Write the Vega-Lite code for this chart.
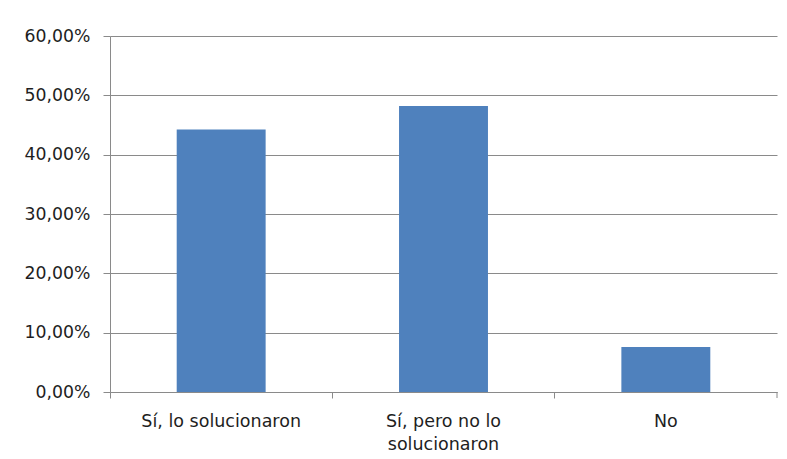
{
  "$schema": "https://vega.github.io/schema/vega-lite/v6.json",
  "width": 667,
  "height": 356,
  "autosize": "none",
  "padding": {"left": 110, "top": 36, "right": 10, "bottom": 67},
  "background": "#ffffff",
  "data": {
    "values": [
      {"respuesta": "Sí, lo solucionaron", "porcentaje": 0.4423},
      {"respuesta": "Sí, pero no lo solucionaron", "porcentaje": 0.4819},
      {"respuesta": "No", "porcentaje": 0.0758}
    ]
  },
  "config": {
    "view": {"stroke": null},
    "font": "DejaVu Sans",
    "axis": {
      "labelFont": "DejaVu Sans",
      "labelColor": "#1e1e1e",
      "domainColor": "#8a8a8a",
      "tickColor": "#8a8a8a",
      "gridColor": "#8a8a8a",
      "domainWidth": 1,
      "tickWidth": 1,
      "gridWidth": 1
    }
  },
  "layer": [
    {
      "mark": {"type": "bar", "color": "#4f81bd", "width": {"band": 0.4}},
      "encoding": {
        "x": {
          "field": "respuesta",
          "type": "nominal",
          "sort": null,
          "scale": {"paddingInner": 0, "paddingOuter": 0},
          "axis": {
            "title": null,
            "labelAngle": 0,
            "labelFontSize": 17.5,
            "labelPadding": 14,
            "labelLineHeight": 23,
            "labelBaseline": "top",
            "tickSize": 6,
            "bandPosition": 0,
            "labelExpr": "datum.label == 'Sí, pero no lo solucionaron' ? ['Sí, pero no lo', 'solucionaron'] : datum.label",
            "labelOffset": 0
          }
        },
        "y": {
          "field": "porcentaje",
          "type": "quantitative",
          "scale": {"domain": [0, 0.6], "nice": false},
          "axis": {
            "title": null,
            "values": [0, 0.1, 0.2, 0.3, 0.4, 0.5, 0.6],
            "labelExpr": "replace(format(datum.value, '.2%'), '.', ',')",
            "labelFontSize": 17.3,
            "labelPadding": 13,
            "tickSize": 7,
            "grid": true
          }
        }
      }
    },
    {
      "transform": [{"filter": "datum.respuesta == 'No'"}],
      "mark": {"type": "rule", "color": "#8a8a8a", "y2Offset": 6},
      "encoding": {
        "x": {"field": "respuesta", "type": "nominal", "sort": null, "bandPosition": 1},
        "y": {"datum": 0},
        "y2": {"datum": 0}
      }
    }
  ]
}
